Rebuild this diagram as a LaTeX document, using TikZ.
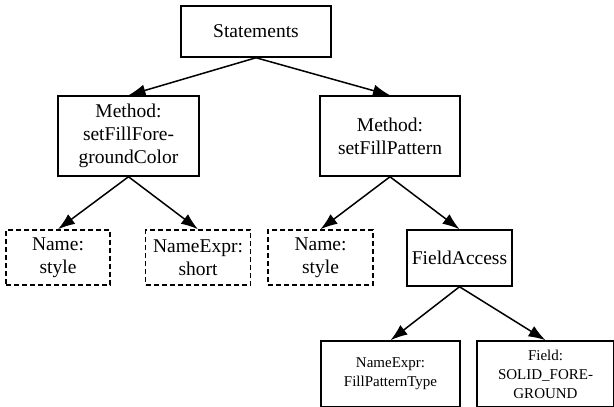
\documentclass[tikz,border=0pt]{standalone}
\usepackage{fontspec}
\setmainfont{Liberation Serif}
\usetikzlibrary{arrows.meta}

\begin{document}
\begin{tikzpicture}[every node/.style={rectangle, draw, line width=1.5pt, align=center, inner sep=0pt, font=\fontsize{19.5}{23}\selectfont}, x=1pt, y=-1pt, >={Latex[length=17pt,width=12pt]}]
\tikzset{opt/.style={dash pattern=on 5pt off 3pt}, small/.style={font=\fontsize{15}{19}\selectfont}}
\useasboundingbox (0,0) rectangle (614,407);
\node[minimum width=150pt, minimum height=51pt] (stmts) at (256, 31.5) {Statements};
\node[minimum width=141pt, minimum height=80pt] (m1) at (128.5, 136) {Method:\\setFillFore-\\groundColor};
\node[minimum width=140pt, minimum height=80pt] (m2) at (390, 136) {Method:\\setFillPattern};
\node[opt, minimum width=104pt, minimum height=55pt] (n1) at (58, 257.5) {Name:\\style};
\node[opt, minimum width=105pt, minimum height=55pt] (e1) at (198, 257.5) {NameExpr:\\short};
\node[opt, minimum width=105pt, minimum height=55pt] (n2) at (320.5, 257.5) {Name:\\style};
\node[minimum width=105pt, minimum height=56pt] (fa) at (459.5, 258) {FieldAccess};
\node[small, minimum width=139pt, minimum height=66pt] (e2) at (390.5, 374) {NameExpr:\\FillPatternType};
\node[small, minimum width=137pt, minimum height=66pt] (f) at (545.5, 374) {Field:\\SOLID\_FORE-\\GROUND};
\draw[->, line width=1.5pt] (stmts.south) -- (m1.north);
\draw[->, line width=1.5pt] (stmts.south) -- (m2.north);
\draw[->, line width=1.5pt] (m1.south) -- (n1.north);
\draw[->, line width=1.5pt] (m1.south) -- (e1.north);
\draw[->, line width=1.5pt] (m2.south) -- (n2.north);
\draw[->, line width=1.5pt] (m2.south) -- (fa.north);
\draw[->, line width=1.5pt] (fa.south) -- (e2.north);
\draw[->, line width=1.5pt] (fa.south) -- (f.north);
\end{tikzpicture}
\end{document}
